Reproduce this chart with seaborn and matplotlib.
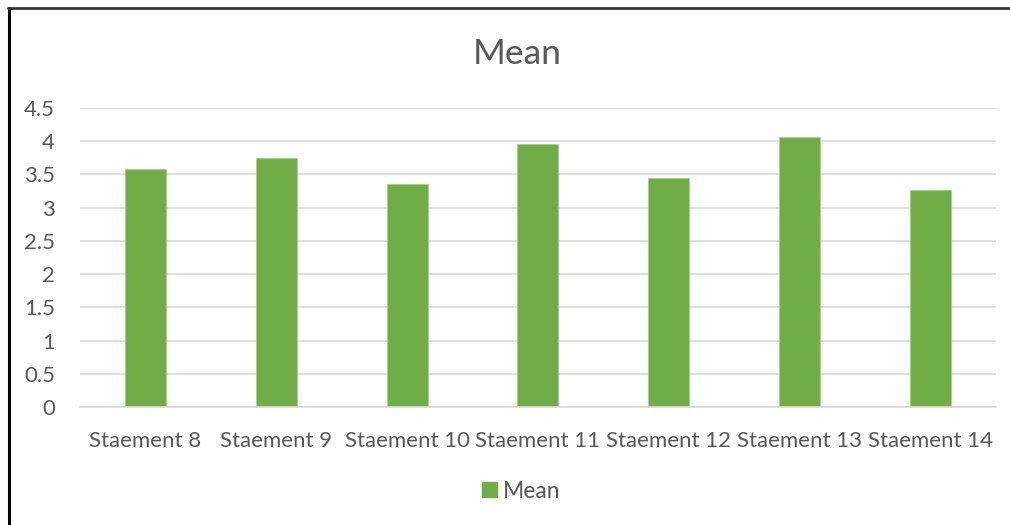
import matplotlib
matplotlib.use("Agg")
import matplotlib.pyplot as plt
from matplotlib.lines import Line2D
from matplotlib.patches import Patch
import seaborn as sns
import pandas as pd

statements = ["Staement 8", "Staement 9", "Staement 10", "Staement 11",
              "Staement 12", "Staement 13", "Staement 14"]
mean_values = [3.58, 3.75, 3.36, 3.95, 3.45, 4.06, 3.27]
y_ticks = [0, 0.5, 1, 1.5, 2, 2.5, 3, 3.5, 4, 4.5]
y_tick_labels = ["0", "0.5", "1", "1.5", "2", "2.5", "3", "3.5", "4", "4.5"]

BAR = "#70AD47"
TEXT = "#595959"
GRID = "#D9D9D9"

sns.set_theme(style="white")
plt.rcParams["font.family"] = ["Lato", "DejaVu Sans"]

df = pd.DataFrame({"Statement": statements, "Mean": mean_values})

fig = plt.figure(figsize=(10.1, 5.25), dpi=100)
ax = fig.add_axes([0.0792, 0.2242, 0.9068, 0.5707])

sns.barplot(data=df, x="Statement", y="Mean", color=BAR, width=0.313,
            saturation=1, edgecolor="#A9D08E", linewidth=0.6, ax=ax)

ax.set_ylim(0, 4.5)
ax.set_xlim(-0.5, len(statements) - 0.5)
ax.set_yticks(y_ticks)
ax.set_yticklabels(y_tick_labels)
ax.yaxis.grid(True, color=GRID, linewidth=1.2)
ax.set_axisbelow(True)
for s in ["top", "right", "left"]:
    ax.spines[s].set_visible(False)
ax.spines["bottom"].set_color(GRID)
ax.spines["bottom"].set_linewidth(1.2)
ax.tick_params(axis="both", length=0, colors=TEXT, labelsize=16)
ax.tick_params(axis="y", pad=18)
ax.tick_params(axis="x", pad=17)
ax.set_xlabel("")
ax.set_ylabel("")

fig.text(0.512, 0.897, "Mean", ha="center", va="center", fontsize=25.5, color=TEXT)

handles = [Patch(facecolor=BAR, edgecolor=BAR, label="Mean")]
fig.legend(handles=handles, loc="center", bbox_to_anchor=(0.516, 0.064),
           frameon=False, fontsize=16.5, labelcolor=TEXT, handlelength=0.65,
           handleheight=0.65, handletextpad=0.25)

# outer frame: left and top edges
fig.add_artist(Line2D([0.009, 0.009], [0.0, 0.984], transform=fig.transFigure,
                      color="black", linewidth=2.2))
fig.add_artist(Line2D([0.008, 1.0], [0.984, 0.984], transform=fig.transFigure,
                      color="#333333", linewidth=2.0))

fig.savefig("out.png", dpi=100, facecolor="white")
